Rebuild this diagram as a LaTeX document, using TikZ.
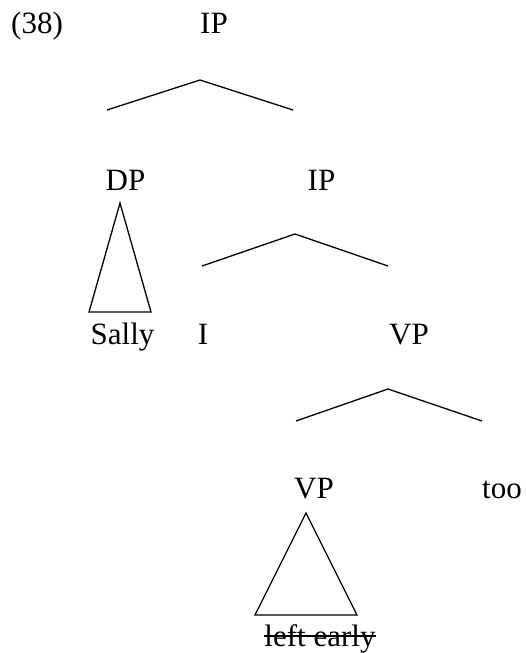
\documentclass[tikz,border=0pt]{standalone}
\usepackage{fontspec}
\setmainfont{Liberation Serif}
\tikzset{
	label/.style={inner sep=0pt, anchor=base, font=\fontsize{31}{37}\selectfont},
	branch/.style={line width=1.3pt},
	strike/.style={line width=1.8pt}
}

\begin{document}
\begin{tikzpicture}[x=1pt, y=-1pt]
				\useasboundingbox (0,0) rectangle (525,653);

				\node[label, anchor=base west] (num) at (11, 33) {(38)};
				\node[label] (ip) at (214, 33) {IP};

				\coordinate (ipTop) at (200, 80);
				\coordinate (ipL) at (107, 110);
				\coordinate (ipR) at (293, 110);
				\draw[branch] (ipL) -- (ipTop) -- (ipR);

				\node[label] (dp) at (125.5, 190) {DP};
				\node[label] (ipbar) at (321.5, 190) {IP};

				% DP triangle
				\coordinate (dpTop) at (120, 203);
				\coordinate (dpL) at (89, 312);
				\coordinate (dpR) at (151, 312);
				\draw[branch] (dpTop) -- (dpL) -- (dpR) -- cycle;

				\coordinate (ipbarTop) at (295, 234);
				\coordinate (ipbarL) at (202, 266);
				\coordinate (ipbarR) at (388, 266);
				\draw[branch] (ipbarL) -- (ipbarTop) -- (ipbarR);

				\node[label] (sally) at (122.5, 344) {Sally};
				\node[label] (infl) at (203, 344) {I};
				\node[label] (vp) at (409, 344) {VP};

				\coordinate (vpTop) at (388, 389);
				\coordinate (vpL) at (296, 421);
				\coordinate (vpR) at (482, 421);
				\draw[branch] (vpL) -- (vpTop) -- (vpR);

				\node[label] (vpLow) at (314, 498) {VP};
				\node[label] (too) at (502, 498) {too};

				% VP triangle
				\coordinate (vpLowTop) at (306, 513);
				\coordinate (vpLowL) at (255, 615);
				\coordinate (vpLowR) at (357, 615);
				\draw[branch] (vpLowTop) -- (vpLowL) -- (vpLowR) -- cycle;

				\node[label] (left) at (320, 646) {left early};
				\draw[strike] ([yshift=10pt]left.base west) -- ([yshift=10pt]left.base east);
			\end{tikzpicture}
\end{document}
